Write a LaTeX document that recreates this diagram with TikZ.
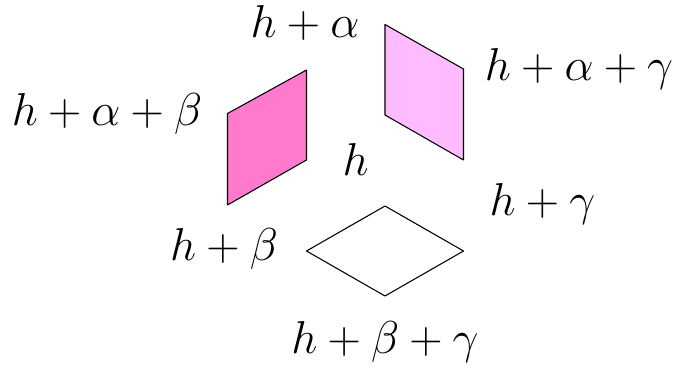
\documentclass[tikz,border=0pt]{standalone}
\begin{document}
\begin{tikzpicture}[x=0.75pt,y=-0.75pt,
  face/.style={draw=black,line width=0.8pt,line join=round},
  lbl/.style={anchor=base,inner sep=0pt,scale=1.39,transform shape,font=\fontsize{24.88}{30}\selectfont}]
\definecolor{hotp}{RGB}{255,122,204}
\definecolor{lightp}{RGB}{255,187,255}
\useasboundingbox (0,0) rectangle (678,368);
% left face
\coordinate (l1) at (227.5,113.5);
\coordinate (l2) at (306.5,70);
\coordinate (l3) at (306.5,160);
\coordinate (l4) at (227.5,205);
\draw[face,fill=hotp] (l1) -- (l2) -- (l3) -- (l4) -- cycle;
% right face
\coordinate (r1) at (385,24.5);
\coordinate (r2) at (463.5,69);
\coordinate (r3) at (463.5,160);
\coordinate (r4) at (385,115);
\draw[face,fill=lightp] (r1) -- (r2) -- (r3) -- (r4) -- cycle;
% bottom face
\coordinate (b1) at (306.5,251);
\coordinate (b2) at (385,206);
\coordinate (b3) at (463.5,251);
\coordinate (b4) at (385,296);
\draw[face,fill=white] (b1) -- (b2) -- (b3) -- (b4) -- cycle;
% labels
\node[lbl] (ha) at (305,37.5) {$h+\alpha$};
\node[lbl] (hag) at (579,80) {$h+\alpha+\gamma$};
\node[lbl] (hab) at (107,125) {$h+\alpha+\beta$};
\node[lbl] (h) at (355.5,175) {$h$};
\node[lbl] (hg) at (542.5,215) {$h+\gamma$};
\node[lbl] (hb) at (224,260) {$h+\beta$};
\node[lbl] (hbg) at (385,353.5) {$h+\beta+\gamma$};
\end{tikzpicture}
\end{document}
